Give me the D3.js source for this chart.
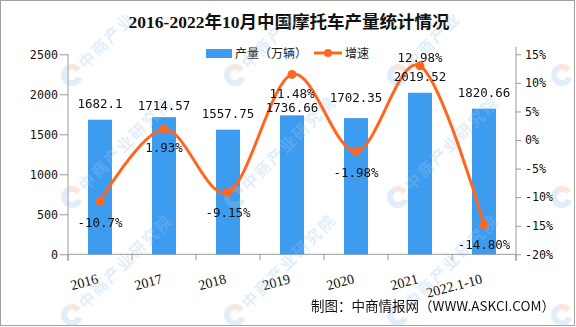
<!DOCTYPE html>
<html><head><meta charset="utf-8">
<script src="https://cdn.jsdelivr.net/npm/d3@7"></script>
<style>body{margin:0;background:#fff}svg{display:block}</style>
</head><body>
<svg id="c" width="576" height="327"></svg>
<script>
const categories = ["2016","2017","2018","2019","2020","2021","2022.1-10"];
const production = [1682.1, 1714.57, 1557.75, 1736.66, 1702.35, 2019.52, 1820.66];
const growth = [-10.7, 1.93, -9.15, 11.48, -1.98, 12.98, -14.80];
const growthLabels = ["-10.7%","1.93%","-9.15%","11.48%","-1.98%","12.98%","-14.80%"];
const leftTicks = [0,500,1000,1500,2000,2500];
const rightTicks = [15,10,5,0,-5,-10,-15,-20];
const watermarkText = "中商产业研究院";
const watermarkTextTop = "中商产业";

const svg = d3.select("#c");
const W=576,H=327;
const x = d3.scaleBand().domain(categories).range([68,516]).paddingInner(0.625).paddingOuter(0.3125);
const yL = d3.scaleLinear().domain([0,2500]).range([254.3,54.3]);
const yR = d3.scaleLinear().domain([-20,15]).range([254.3,54.3]);
const cx = c => x(c)+x.bandwidth()/2;

svg.append("rect").attr("x",0.5).attr("y",0.5).attr("width",W-2).attr("height",H-2).attr("fill","#fff").attr("stroke","#a0a0a0");

// title
svg.append("text").attr("x",289).attr("y",28).attr("text-anchor","middle")
  .attr("font-family","'Liberation Serif','Noto Sans CJK SC'").attr("font-weight","bold").attr("font-size",17.5)
  .attr("fill","#111").text("2016-2022年10月中国摩托车产量统计情况");

// legend
const lg = svg.append("g").attr("font-family","'Noto Sans CJK SC'").attr("font-size",12).attr("fill","#222");
lg.append("rect").attr("x",206).attr("y",49).attr("width",26).attr("height",9).attr("fill","#3D9CF0");
lg.append("text").attr("x",235).attr("y",57.5).text("产量（万辆）");
lg.append("line").attr("x1",314).attr("x2",342).attr("y1",53).attr("y2",53).attr("stroke","#FF661F").attr("stroke-width",3);
lg.append("circle").attr("cx",328).attr("cy",53).attr("r",4).attr("fill","#FF661F");
lg.append("text").attr("x",345).attr("y",57.5).text("增速");

// axes
const axisColor="#999";
const gL = svg.append("g").attr("transform","translate(68,0)")
  .call(d3.axisLeft(yL).tickValues(leftTicks).tickSize(8).tickPadding(2).tickFormat(d3.format("d")));
const gR = svg.append("g").attr("transform","translate(516,0)")
  .call(d3.axisRight(yR).tickValues(rightTicks).tickSize(5).tickPadding(4).tickFormat(d=>d+"%"));
const gB = svg.append("g").attr("transform","translate(0,254.3)")
  .call(d3.axisBottom(x).tickSize(0).tickFormat(""));
[gL,gR].forEach(g=>{
  g.selectAll("path,line").attr("stroke",axisColor);
  g.selectAll("text").attr("font-family","'DejaVu Sans Mono'").attr("font-size",11.7).attr("fill","#111");
});
gL.select(".domain").attr("d","M0,54.3V261");
gR.select(".domain").attr("d","M0,47V261");
gB.select(".domain").attr("stroke",axisColor).attr("d","M68,0H516");
const bounds = categories.map(c=>x(c)-x.step()*x.paddingInner()/2).concat([516]);
gB.selectAll(".bt").data(bounds).enter().append("line").attr("x1",d=>d).attr("x2",d=>d).attr("y1",0).attr("y2",6).attr("stroke",axisColor);

// x labels
svg.append("g").selectAll("text").data(categories).enter().append("text")
  .attr("transform",d=>`translate(${cx(d)-1},${283}) rotate(-15)`)
  .attr("text-anchor","end").attr("font-family","'Liberation Serif'").attr("font-size",14).attr("fill","#111")
  .text(d=>d);

// bars
svg.append("g").selectAll("rect").data(production).enter().append("rect")
  .attr("x",(d,i)=>x(categories[i])).attr("width",x.bandwidth())
  .attr("y",d=>yL(d)).attr("height",d=>yL(0)-yL(d)).attr("fill","#3D9CF0");

// watermarks (faint)
const wmX = [72, 235, 398, 562];
const wmY = [75, 197, 315];
const wm = svg.append("g").attr("opacity",0.3);
const arcBlue = d3.arc().innerRadius(5).outerRadius(11).startAngle(Math.PI*0.62).endAngle(Math.PI*1.85);
const arcPink = d3.arc().innerRadius(5).outerRadius(11).startAngle(Math.PI*1.85).endAngle(Math.PI*2.3);
wmX.forEach(px=>wmY.forEach(py=>{
  const g = wm.append("g").attr("transform",`translate(${px},${py})`);
  g.append("path").attr("d",arcBlue()).attr("fill","#9cc6ea");
  g.append("path").attr("d",arcPink()).attr("fill","#f2a88c");
  if (px < 500) {
    g.append("text").attr("transform","rotate(-45)").attr("x",13).attr("y",6)
      .attr("font-family","'Noto Sans CJK SC'").attr("font-weight","bold").attr("font-size",16)
      .attr("letter-spacing",2).attr("fill","#9cc6ea").text(py < 100 ? watermarkTextTop : watermarkText);
  }
}));

// line
const line = d3.line().x((d,i)=>cx(categories[i])).y(d=>yR(d)).curve(d3.curveCatmullRom.alpha(0));
svg.append("path").datum(growth).attr("d",line).attr("fill","none").attr("stroke","#FF661F").attr("stroke-width",3);
svg.append("g").selectAll("circle").data(growth).enter().append("circle")
  .attr("cx",(d,i)=>cx(categories[i])).attr("cy",d=>yR(d)).attr("r",4.5).attr("fill","#FF661F");

// labels
const barLabelDy = [-16.5,-12,-16.5,-8,-21,-16.5,-16.5];
const growthLabelDy = [21,18.5,20,18.6,20.7,-8,20];
const lblFont="'DejaVu Sans Mono'";
svg.append("g").selectAll("text").data(production).enter().append("text")
  .attr("x",(d,i)=>cx(categories[i])).attr("y",(d,i)=>yL(d)+barLabelDy[i]+4.5)
  .attr("text-anchor","middle").attr("font-family",lblFont).attr("font-size",12.5).attr("fill","#111")
  .text(d=>d);
svg.append("g").selectAll("text").data(growth).enter().append("text")
  .attr("x",(d,i)=>cx(categories[i])).attr("y",(d,i)=>yR(d)+growthLabelDy[i]+4.5)
  .attr("text-anchor","middle").attr("font-family",lblFont).attr("font-size",12.5).attr("fill","#111")
  .text((d,i)=>growthLabels[i]);

// source
svg.append("text").attr("x",555).attr("y",310.5).attr("text-anchor","end")
  .attr("font-family","'Noto Sans CJK SC'").attr("font-size",13.5).attr("fill","#111")
  .text("制图：中商情报网（WWW.ASKCI.COM）");
</script>
</body></html>
